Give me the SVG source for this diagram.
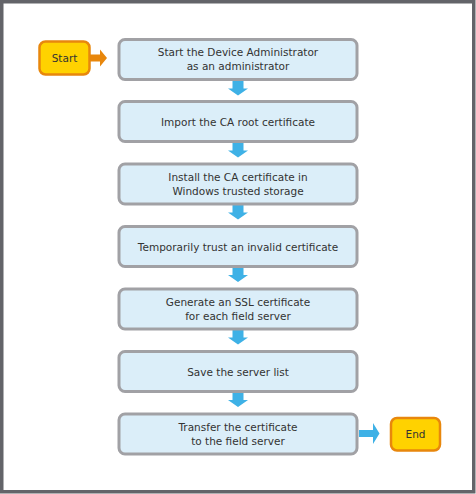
<svg xmlns="http://www.w3.org/2000/svg" width="476" height="494" viewBox="0 0 476 494">
<defs>
<style>
.step{fill:#dbeef9;stroke:#a1a1a5;stroke-width:3}
.term{fill:#ffd200;stroke:#e8870c;stroke-width:2.5}
text{font-family:"DejaVu Sans",Verdana,sans-serif;font-size:10.5px;fill:#333;text-anchor:middle}
.blue{fill:#3eb1e6}
.orange{fill:#e8870c}
</style>
<path id="down" d="M-5.5,0 H5.5 V7.5 H10 L0,14.5 L-10,7.5 H-5.5 Z"/>
</defs>
<rect x="1.75" y="1.75" width="472" height="490" fill="#fff" stroke="#636469" stroke-width="3.5"/>
<g id="connectors">
<path class="orange" d="M90,54.5 H100 V49.5 L107,58 L100,66.5 V61.5 H90 Z"/>
<use href="#down" class="blue" x="238" y="81"/>
<use href="#down" class="blue" x="238" y="143"/>
<use href="#down" class="blue" x="238" y="205"/>
<use href="#down" class="blue" x="238" y="267.5"/>
<use href="#down" class="blue" x="238" y="330"/>
<use href="#down" class="blue" x="238" y="392.5"/>
<path class="blue" d="M359,430 H373 V423 L379.5,433.5 L373,444 V437 H359 Z"/>
</g>
<g id="start"><rect class="term" x="39.5" y="41.5" width="50" height="33" rx="6"/><text x="64.5" y="62">Start</text></g>
<g id="s1"><rect class="step" x="119" y="39.5" width="238" height="40" rx="6"/><text x="238" y="56">Start the Device Administrator</text><text x="238" y="70">as an administrator</text></g>
<g id="s2"><rect class="step" x="119" y="101.5" width="238" height="40" rx="6"/><text x="238" y="125.5">Import the CA root certificate</text></g>
<g id="s3"><rect class="step" x="119" y="164" width="238" height="40" rx="6"/><text x="238" y="180.5">Install the CA certificate in</text><text x="238" y="194.5">Windows trusted storage</text></g>
<g id="s4"><rect class="step" x="119" y="226.5" width="238" height="40" rx="6"/><text x="238" y="250.5">Temporarily trust an invalid certificate</text></g>
<g id="s5"><rect class="step" x="119" y="289" width="238" height="40" rx="6"/><text x="238" y="305.5">Generate an SSL certificate</text><text x="238" y="319.5">for each field server</text></g>
<g id="s6"><rect class="step" x="119" y="351.5" width="238" height="40" rx="6"/><text x="238" y="375.5">Save the server list</text></g>
<g id="s7"><rect class="step" x="119" y="414" width="238" height="40" rx="6"/><text x="238" y="430.5">Transfer the certificate</text><text x="238" y="444.5">to the field server</text></g>
<g id="end"><rect class="term" x="391" y="418" width="49" height="32.5" rx="6"/><text x="415.5" y="438">End</text></g>
</svg>
